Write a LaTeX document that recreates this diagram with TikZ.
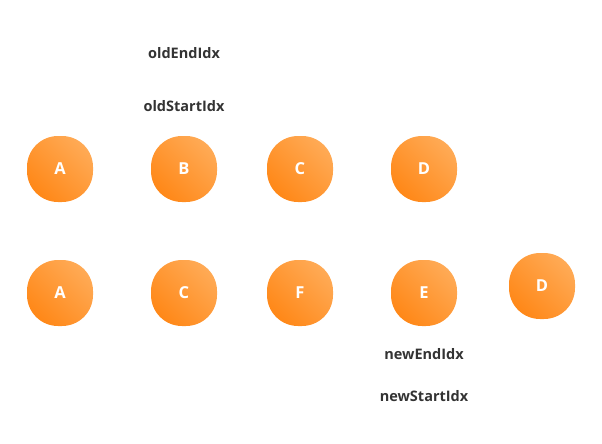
\documentclass[tikz,border=0pt]{standalone}
\usepackage{fontspec}
\setmainfont{Open Sans}
\usetikzlibrary{positioning}
\definecolor{orangelight}{HTML}{FFAA55}
\definecolor{orangedark}{HTML}{FF8818}
\definecolor{labelgray}{HTML}{333333}

\begin{document}
\begin{tikzpicture}[
    x=1pt, y=-1pt,
    vnode/.style={rectangle, minimum size=66pt, rounded corners=31pt,
                  shade, left color=orangedark, right color=orangelight,
                  shading angle=135, text=white,
                  font=\bfseries\fontsize{16.5}{18}\selectfont},
    idx/.style={text=labelgray, inner sep=1pt,
                font=\bfseries\fontsize{14.5}{16}\selectfont}
]
\useasboundingbox (0,0) rectangle (602,444);

% old children
\node[vnode] (oldA) at (60,169)  {A};
\node[vnode] (oldB) at (184,169) {B};
\node[vnode] (oldC) at (300,169) {C};
\node[vnode] (oldD) at (424,169) {D};

% new children
\node[vnode] (newA) at (60,293)  {A};
\node[vnode] (newC) at (184,293) {C};
\node[vnode] (newF) at (300,293) {F};
\node[vnode] (newE) at (424,293) {E};
\node[vnode] (newD) at (542,286) {D};

% pointers
\node[idx] (oldStart) at (184,106) {oldStartIdx};
\node[idx] (oldEnd)   at (184,53)  {oldEndIdx};
\node[idx] (newEnd)   at (424,354) {newEndIdx};
\node[idx] (newStart) at (424,396) {newStartIdx};
\end{tikzpicture}
\end{document}
